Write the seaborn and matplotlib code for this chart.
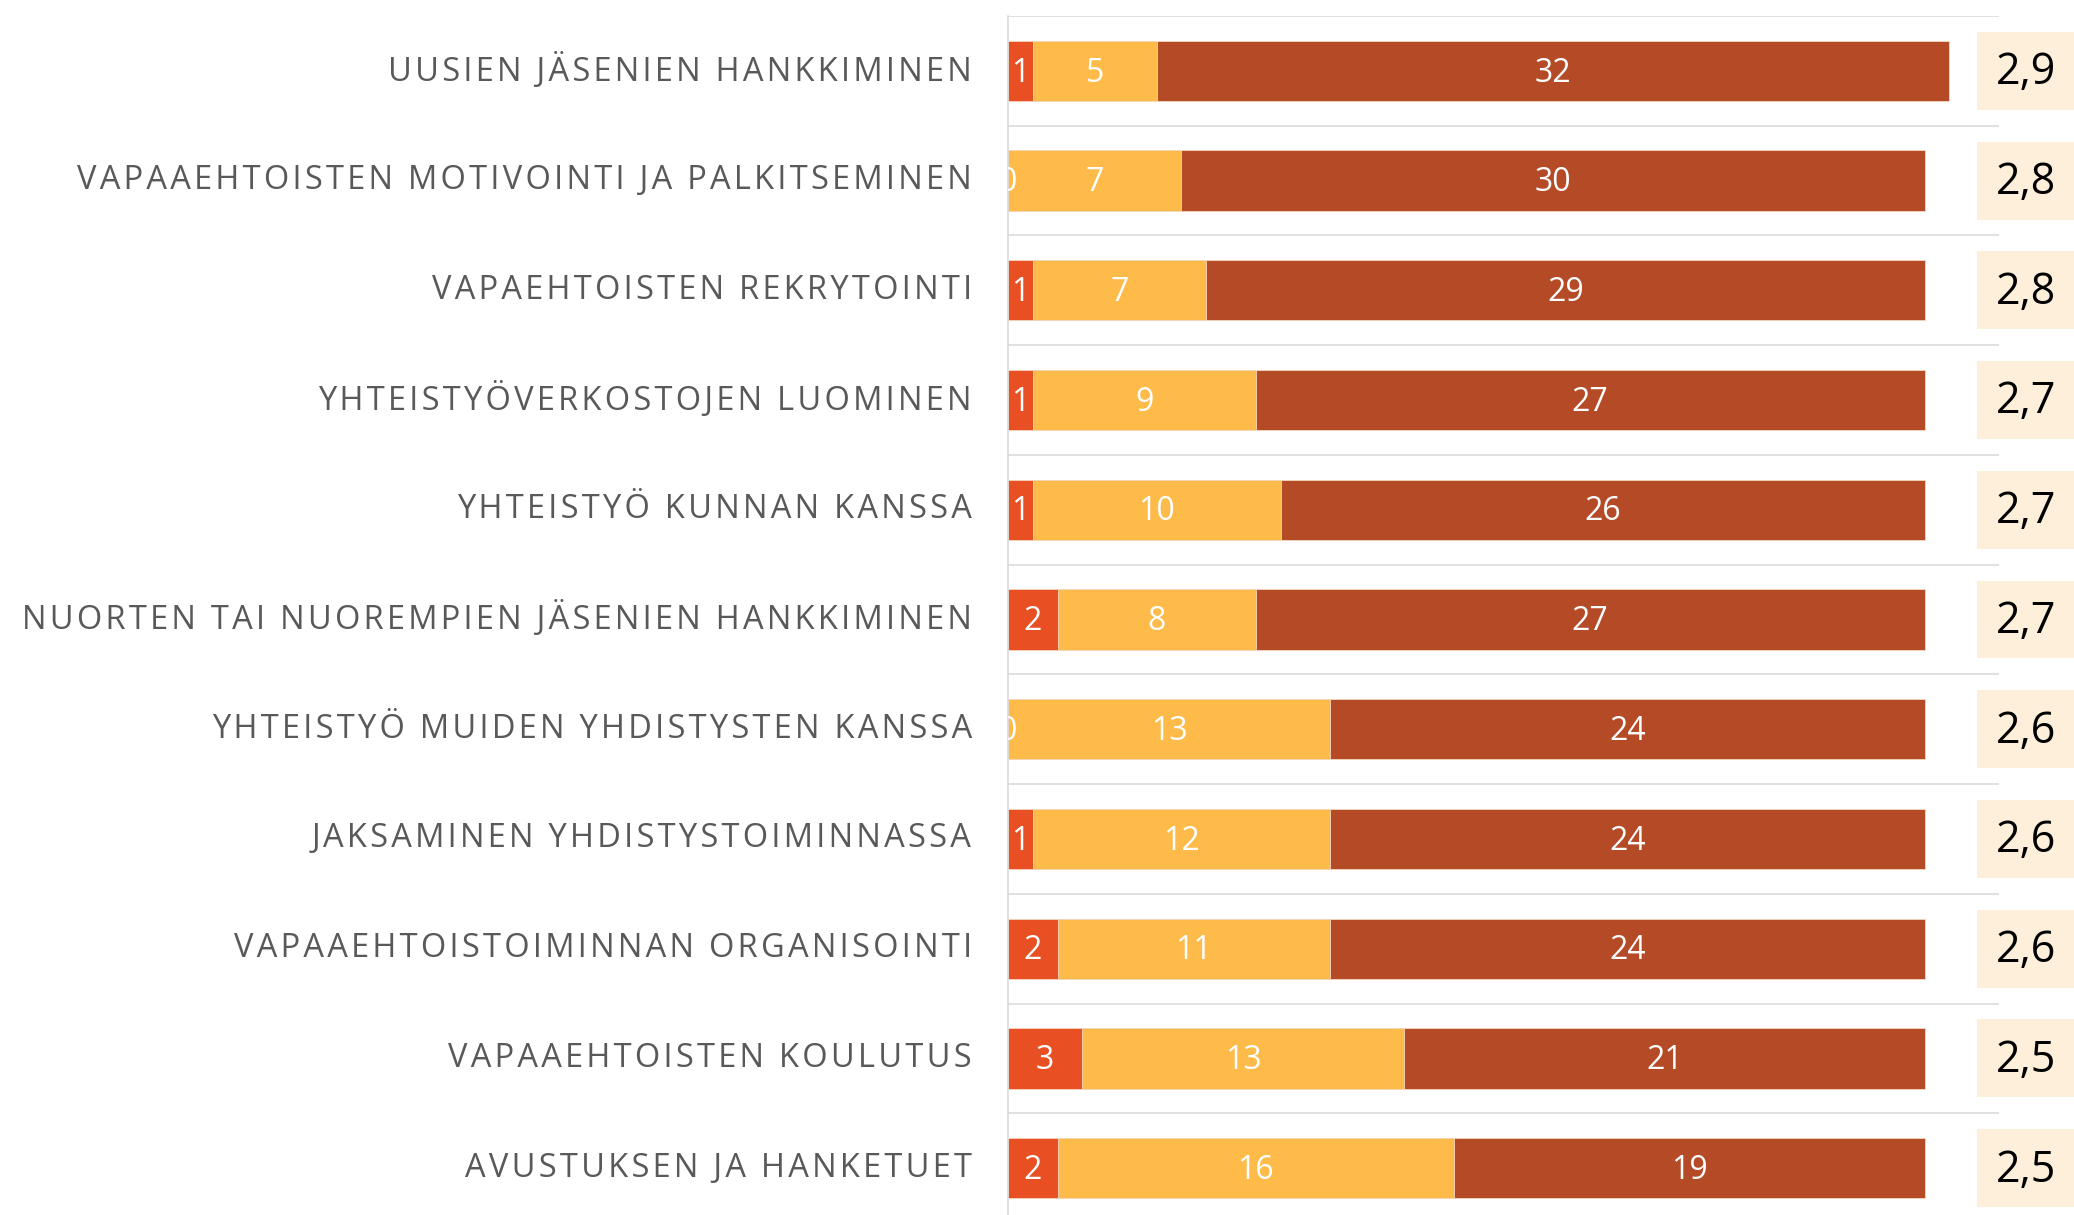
import matplotlib
matplotlib.use("Agg")
import matplotlib.pyplot as plt
import seaborn as sns
import pandas as pd
import numpy as np
from matplotlib.patches import Rectangle

categories = [
    "UUSIEN JÄSENIEN HANKKIMINEN",
    "VAPAAEHTOISTEN MOTIVOINTI JA PALKITSEMINEN",
    "VAPAEHTOISTEN REKRYTOINTI",
    "YHTEISTYÖVERKOSTOJEN LUOMINEN",
    "YHTEISTYÖ KUNNAN KANSSA",
    "NUORTEN TAI NUOREMPIEN JÄSENIEN HANKKIMINEN",
    "YHTEISTYÖ MUIDEN YHDISTYSTEN KANSSA",
    "JAKSAMINEN YHDISTYSTOIMINNASSA",
    "VAPAAEHTOISTOIMINNAN ORGANISOINTI",
    "VAPAAEHTOISTEN KOULUTUS",
    "AVUSTUKSEN JA HANKETUET",
]
series_low = [1, 0, 1, 1, 1, 2, 0, 1, 2, 3, 2]
series_mid = [5, 7, 7, 9, 10, 8, 13, 12, 11, 13, 16]
series_high = [32, 30, 29, 27, 26, 27, 24, 24, 24, 21, 19]
averages = [2.9, 2.8, 2.8, 2.7, 2.7, 2.7, 2.6, 2.6, 2.6, 2.5, 2.5]

colors = ["#E84F23", "#FEBB4A", "#B54A27"]

sns.set_theme(style="white")
plt.rcParams["font.family"] = ["Open Sans", "DejaVu Sans"]

df = pd.DataFrame({"cat": categories, "low": series_low, "mid": series_mid, "high": series_high})
df["c1"] = df["low"]
df["c2"] = df["low"] + df["mid"]
df["c3"] = df["c2"] + df["high"]

fig = plt.figure(figsize=(20.74, 12.15), dpi=100)
ax = fig.add_axes([1008 / 2074, -8 / 1215, (1999 - 1008) / 2074, 1207 / 1215])

for col, color in zip(["c3", "c2", "c1"], colors[::-1]):
    sns.barplot(data=df, y="cat", x=col, color=color, orient="h", width=0.55,
                ax=ax, saturation=1, edgecolor="#F3D9C0", linewidth=0.6)

ax.set_xlim(0, 40)
ax.set_ylim(len(categories) - 0.5, -0.5)
ax.set_xlabel("")
ax.set_ylabel("")
ax.set_xticks([])

def spaced(s):
    return "\u200a".join(s)

ax.set_yticks(range(len(categories)))
ax.set_yticklabels([spaced(c) for c in categories], fontsize=23.5, color="#595959")
ax.tick_params(axis="y", length=0, pad=26)
for lab in ax.get_yticklabels():
    lab.set_verticalalignment("center")

ax.set_yticks(np.arange(-0.5, len(categories), 1.0), minor=True)
ax.grid(True, which="minor", axis="y", color="#D9D9D9", linewidth=1.1)
ax.tick_params(axis="y", which="minor", length=0)
for side in ["top", "right", "bottom"]:
    ax.spines[side].set_visible(False)
ax.spines["left"].set_color("#D9D9D9")
ax.spines["left"].set_linewidth(1.1)
ax.set_axisbelow(True)

# segment labels
for i in range(len(categories)):
    starts = [0, df["c1"][i], df["c2"][i]]
    vals = [df["low"][i], df["mid"][i], df["high"][i]]
    for s, v in zip(starts, vals):
        ax.text(s + v / 2, i + 0.02, str(v), ha="center", va="center",
                color="white", fontsize=23, clip_on=True)

# average boxes
for i, a in enumerate(averages):
    ax.add_patch(Rectangle((39.1, i - 0.355), 4.0, 0.71, facecolor="#FDEFDA",
                           edgecolor="none", clip_on=False, zorder=3))
    ax.text(41.1, i + 0.02, f"{a:.1f}".replace(".", ","), ha="center", va="center",
            color="black", fontsize=31, clip_on=False, zorder=4)

fig.savefig("out.png", dpi=100)
